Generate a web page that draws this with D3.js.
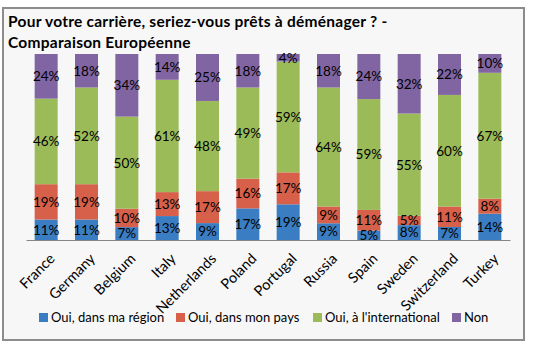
<!DOCTYPE html>
<html><head><meta charset="utf-8">
<script src="https://cdn.jsdelivr.net/npm/d3@7"></script>
<style>
html,body{margin:0;padding:0;background:#fff;}
svg{display:block;}
text{font-family:Lato,"Open Sans",sans-serif;}
</style></head>
<body>
<svg id="c" width="533" height="352"></svg>
<script>
const categories = ["France","Germany","Belgium","Italy","Netherlands","Poland","Portugal","Russia","Spain","Sweden","Switzerland","Turkey"];
const region        = [11,11,7,13,9,17,19,9,5,8,7,14];
const pays          = [19,19,10,13,17,16,17,9,11,5,11,8];
const international = [46,52,50,61,48,49,59,64,59,55,60,67];
const non           = [24,18,34,14,25,18,4,18,24,32,22,10];
const seriesNames = ["Oui, dans ma région","Oui, dans mon pays","Oui, à l'international","Non"];
const colors = ["#3B7DC2","#D6604A","#9BBB59","#8165A3"];
const titleLines = ["Pour votre carrière, seriez-vous prêts à déménager ? -","Comparaison Européenne"];

const svg = d3.select("#c");
// chart frame
svg.append("rect").attr("x",3).attr("y",8).attr("width",521).attr("height",332)
  .attr("fill","#F7F7F7").attr("stroke","#8C8C8C").attr("stroke-width",2);

// title
svg.append("g").selectAll("text").data(titleLines).join("text")
  .attr("x",8).attr("y",(d,i)=>27+i*20.5)
  .attr("font-size",15.5).attr("letter-spacing",0.25).attr("font-weight","bold").attr("fill","#000").text(d=>d);

const data = categories.map((c,i)=>({cat:c, vals:[region[i],pays[i],international[i],non[i]]}));
const x = d3.scaleBand().domain(categories).range([26,510]).paddingInner(0.43).paddingOuter(0.215);
const y = d3.scaleLinear().domain([0,1]).range([240,54]);

const segs = [];
data.forEach(d=>{
  const tot = d3.sum(d.vals);
  let acc = 0;
  d.vals.forEach((v,k)=>{
    segs.push({cat:d.cat,k,v,y0:acc/tot,y1:(acc+v)/tot});
    acc += v;
  });
});

svg.append("g").selectAll("rect").data(segs).join("rect")
  .attr("x",d=>x(d.cat)).attr("width",x.bandwidth())
  .attr("y",d=>y(d.y1)).attr("height",d=>y(d.y0)-y(d.y1))
  .attr("fill",d=>colors[d.k]);

svg.append("g").selectAll("text").data(segs).join("text")
  .attr("x",d=>x(d.cat)+x.bandwidth()/2)
  .attr("y",d=>(y(d.y0)+y(d.y1))/2)
  .attr("dy","0.36em").attr("text-anchor","middle")
  .attr("font-size",13.5).attr("fill","#000")
  .text(d=>d.v+"%");

// axis
const ax = svg.append("g").attr("transform","translate(0,240)")
  .call(d3.axisBottom(x).tickSize(0).tickPadding(0));
ax.select(".domain").attr("stroke","#868686").attr("stroke-width",1);
ax.selectAll("text")
  .attr("font-family","Lato, sans-serif").attr("font-size",14.5).attr("fill","#000")
  .attr("text-anchor","end")
  .attr("transform","translate(6,16) rotate(-45)")
  .attr("dy","0.35em").attr("y",0);

// legend
const legX = [39,176,313,452];
const lg = svg.append("g").selectAll("g").data(seriesNames).join("g")
  .attr("transform",(d,i)=>`translate(${legX[i]},313)`);
lg.append("rect").attr("width",9).attr("height",9).attr("fill",(d,i)=>colors[i]);
lg.append("text").attr("x",12).attr("y",4.5).attr("dy","0.36em")
  .attr("font-size",13).attr("fill","#000").text(d=>d);
</script>
</body></html>
